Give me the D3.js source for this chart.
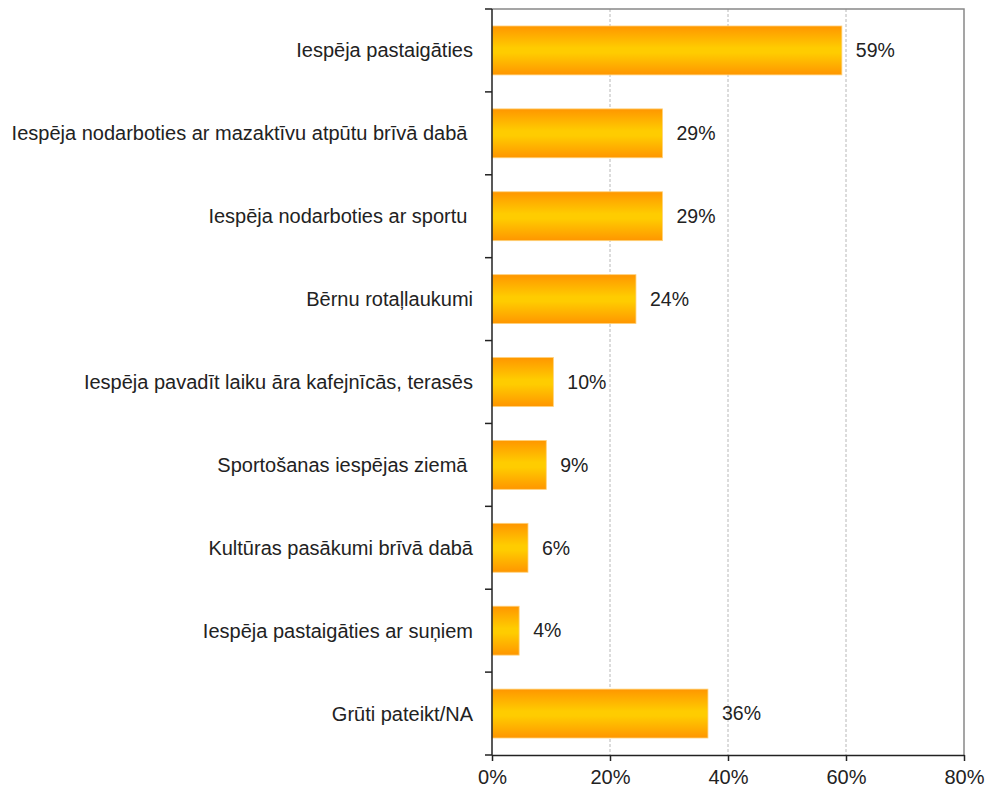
<!DOCTYPE html>
<html><head><meta charset="utf-8">
<script src="https://cdn.jsdelivr.net/npm/d3@7"></script>
<style>body{margin:0;background:#fff}svg{display:block}text{font-family:"Liberation Sans",Arial,sans-serif}</style>
</head><body>
<script>
const categories = [
  "Iespēja pastaigāties",
  "Iespēja nodarboties ar mazaktīvu atpūtu brīvā dabā ",
  "Iespēja nodarboties ar sportu ",
  "Bērnu rotaļlaukumi",
  "Iespēja pavadīt laiku āra kafejnīcās, terasēs",
  "Sportošanas iespējas ziemā ",
  "Kultūras pasākumi brīvā dabā",
  "Iespēja pastaigāties ar suņiem",
  "Grūti pateikt/NA"
];
const values = [59.3, 28.9, 28.9, 24.4, 10.4, 9.2, 6.1, 4.6, 36.6];
const valueLabels = ["59%", "29%", "29%", "24%", "10%", "9%", "6%", "4%", "36%"];
const xTicks = [0, 20, 40, 60, 80];

(function () {
const W = 989, H = 791;
const pL = 492, pR = 964, pT = 9, pB = 755;
const svg = d3.select("body").append("svg").attr("width", W).attr("height", H);

const defs = svg.append("defs");
const g = defs.append("linearGradient").attr("id", "barGrad").attr("x1", 0).attr("y1", 0).attr("x2", 0).attr("y2", 1);
g.append("stop").attr("offset", "0%").attr("stop-color", "#FF9600");
g.append("stop").attr("offset", "45%").attr("stop-color", "#FFCC00");
g.append("stop").attr("offset", "55%").attr("stop-color", "#FFCC00");
g.append("stop").attr("offset", "100%").attr("stop-color", "#FF9600");

const x = d3.scaleLinear().domain([0, 80]).range([pL, pR]);
const y = d3.scaleBand().domain(categories).range([pT, pB]).paddingInner(0.41).paddingOuter(0.205);

svg.append("g").selectAll("line").data(xTicks.filter(t => t > 0 && t < 80)).join("line")
  .attr("x1", d => x(d)).attr("x2", d => x(d)).attr("y1", pT).attr("y2", pB)
  .attr("stroke", "#b8b8b8").attr("stroke-width", 1).attr("stroke-dasharray", "3,2");
svg.append("path").attr("d", `M${pL},${pT}H${pR}V${pB}`).attr("fill", "none")
  .attr("stroke", "#888").attr("stroke-width", 1.5);

svg.append("g").selectAll("rect").data(values).join("rect")
  .attr("x", x(0)).attr("y", (d, i) => y(categories[i]))
  .attr("width", d => x(d) - x(0)).attr("height", y.bandwidth())
  .attr("fill", "url(#barGrad)").attr("stroke", "#FFD27A").attr("stroke-width", 0.8);

svg.append("g").selectAll("text").data(values).join("text")
  .attr("x", d => x(d) + 14).attr("y", (d, i) => y(categories[i]) + y.bandwidth() / 2)
  .attr("dy", "0.35em").attr("font-size", 19.5).attr("fill", "#222")
  .text((d, i) => valueLabels[i]);

const step = (pB - pT) / categories.length;
const boundaries = d3.range(categories.length + 1).map(i => pT + i * step);
svg.append("line").attr("x1", pL).attr("x2", pL).attr("y1", pT).attr("y2", pB)
  .attr("stroke", "#222").attr("stroke-width", 1.5);
svg.append("g").selectAll("line").data(boundaries).join("line")
  .attr("x1", pL - 7).attr("x2", pL).attr("y1", d => d).attr("y2", d => d)
  .attr("stroke", "#222").attr("stroke-width", 1.5);
svg.append("g").selectAll("text").data(categories).join("text")
  .attr("x", pL - 19).attr("y", d => y(d) + y.bandwidth() / 2)
  .attr("dy", "0.35em").attr("text-anchor", "end").attr("font-size", 20).attr("fill", "#222")
  .style("white-space", "pre").text(d => d);

const xAxis = d3.axisBottom(x).tickValues(xTicks).tickFormat(d => d + "%").tickSize(6).tickSizeOuter(0);
const ax = svg.append("g").attr("transform", `translate(0,${pB})`).call(xAxis);
ax.select(".domain").attr("stroke", "#222").attr("stroke-width", 1.5);
ax.selectAll(".tick line").attr("stroke", "#222").attr("stroke-width", 1.5);
ax.selectAll(".tick text").attr("font-size", 20).attr("fill", "#222").attr("y", 15)
  .attr("font-family", "'Liberation Sans', Arial, sans-serif");
})();
</script>
</body></html>
